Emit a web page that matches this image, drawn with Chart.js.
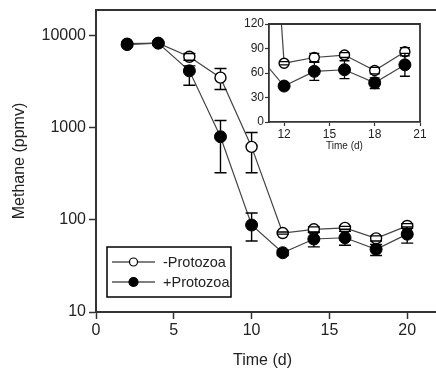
<!DOCTYPE html>
<html>
<head>
<meta charset="utf-8">
<script src="https://cdn.jsdelivr.net/npm/chart.js@4"></script>
<style>
  body { margin: 0; background: #fff; }
  #wrap { position: relative; width: 436px; height: 372px; }
  #main { position: absolute; left: 0; top: 0; }
  #inset { position: absolute; left: 225px; top: 12px; }
</style>
</head>
<body>
<div id="wrap">
  <canvas id="main" width="436" height="372"></canvas>
  <canvas id="inset" width="205" height="145"></canvas>
</div>
<script>
// sampling days
const days = [2, 4, 6, 8, 10, 12, 14, 16, 18, 20];

// -Protozoa (open circles)
const minusMean = [8200, 8300, 5900, 3500, 620, 72, 79, 82, 63, 86];
const minusHigh = [8500, 8600, 6400, 4400, 890, 74, 84, 85, 67, 91];
const minusLow = [7900, 8000, 5400, 2600, 325, 70, 74, 79, 59, 81];

// +Protozoa (filled circles)
const plusMean = [8000, 8300, 4150, 800, 88, 44, 62, 64, 48, 70];
const plusHigh = [8300, 8600, 4700, 1200, 119, 47, 73, 75, 54, 84];
const plusLow = [7700, 8000, 2900, 325, 59, 41, 51, 53, 41, 56];

const seriesNames = ["-Protozoa", "+Protozoa"];

// tick labels
const mainXTicks = [0, 5, 10, 15, 20];
const mainYTicks = [10, 100, 1000, 10000];
const insetXTicks = [12, 15, 18, 21];
const insetYTicks = [0, 30, 60, 90, 120];

const FONT = "'Liberation Sans', Arial, sans-serif";
const INK = "#222";
const AXIS = "#333";

const toXY = arr => arr.map((v, i) => ({ x: days[i], y: v }));

// fixed axis box sizes, no extra label padding so the plot area lands where we want
const fixSize = (w, h) => s => {
  if (w != null) s.width = w;
  if (h != null) s.height = h;
  s.paddingTop = 0; s.paddingBottom = 0; s.paddingLeft = 0; s.paddingRight = 0;
};

function makeDatasets(rOpen, rFilled) {
  return [
    {
      label: seriesNames[0],
      data: toXY(minusMean),
      errHigh: minusHigh,
      errLow: minusLow,
      borderColor: "#444",
      borderWidth: 1.2,
      pointBackgroundColor: "#fff",
      pointBorderColor: "#000",
      pointBorderWidth: 1.4,
      pointRadius: rOpen,
      tension: 0,
      order: 2
    },
    {
      label: seriesNames[1],
      data: toXY(plusMean),
      errHigh: plusHigh,
      errLow: plusLow,
      borderColor: "#444",
      borderWidth: 1.2,
      pointBackgroundColor: "#000",
      pointBorderColor: "#000",
      pointBorderWidth: 1,
      pointRadius: rFilled,
      tension: 0,
      order: 1
    }
  ];
}

// error bars drawn right after each dataset; stems stop at the symbol edge
const errorBars = {
  id: "errorBars",
  afterDatasetDraw(chart, args, opts) {
    const ds = chart.data.datasets[args.index];
    const yScale = chart.scales.y;
    const area = chart.chartArea;
    const ctx = chart.ctx;
    const r = ds.pointRadius;
    const cap = opts.cap || 6;
    ctx.save();
    ctx.beginPath();
    ctx.rect(area.left, area.top - 1, area.right - area.left, area.bottom - area.top + 1);
    ctx.clip();
    ctx.strokeStyle = "#000";
    ctx.lineWidth = opts.width || 1.4;
    args.meta.data.forEach((pt, i) => {
      const yHi = yScale.getPixelForValue(ds.errHigh[i]);
      const yLo = yScale.getPixelForValue(ds.errLow[i]);
      ctx.beginPath();
      if (yHi < pt.y - r) { ctx.moveTo(pt.x, pt.y - r); ctx.lineTo(pt.x, yHi); }
      if (yLo > pt.y + r) { ctx.moveTo(pt.x, pt.y + r); ctx.lineTo(pt.x, yLo); }
      ctx.moveTo(pt.x - cap, yHi); ctx.lineTo(pt.x + cap, yHi);
      ctx.moveTo(pt.x - cap, yLo); ctx.lineTo(pt.x + cap, yLo);
      ctx.stroke();
    });
    ctx.restore();
  }
};

// top frame line; main chart: top and bottom lines run on to the canvas edge
const frame = {
  id: "frame",
  afterDraw(chart, args, opts) {
    const { ctx, chartArea: a } = chart;
    ctx.save();
    ctx.strokeStyle = AXIS;
    ctx.lineWidth = opts.width;
    ctx.beginPath();
    if (opts.right) {
      ctx.moveTo(a.left, a.top);
      ctx.lineTo(a.right, a.top);
      ctx.lineTo(a.right, a.bottom);
    } else {
      ctx.moveTo(a.left, a.top);
      ctx.lineTo(chart.width, a.top);
      ctx.moveTo(a.right - 1, a.bottom);
      ctx.lineTo(chart.width, a.bottom);
    }
    ctx.stroke();
    ctx.restore();
  }
};

const boxLegend = {
  id: "boxLegend",
  afterDraw(chart) {
    const ctx = chart.ctx;
    const x0 = 107, y0 = 247, w = 124, h = 50;
    ctx.save();
    ctx.fillStyle = "#fff";
    ctx.fillRect(x0, y0, w, h);
    ctx.strokeStyle = "#000";
    ctx.lineWidth = 1.5;
    ctx.strokeRect(x0, y0, w, h);
    chart.data.datasets.forEach((ds, i) => {
      const y = y0 + 15 + i * 20;
      ctx.strokeStyle = "#000";
      ctx.lineWidth = 1.2;
      ctx.beginPath();
      ctx.moveTo(x0 + 5, y);
      ctx.lineTo(x0 + 48, y);
      ctx.stroke();
      ctx.beginPath();
      ctx.arc(x0 + 26.5, y, i === 0 ? 4 : 4.5, 0, Math.PI * 2);
      ctx.fillStyle = ds.pointBackgroundColor;
      ctx.fill();
      ctx.lineWidth = 1.2;
      ctx.stroke();
      ctx.fillStyle = INK;
      ctx.font = "14.5px " + FONT;
      ctx.textBaseline = "middle";
      ctx.fillText(ds.label, x0 + 56, y + 1);
    });
    ctx.restore();
  }
};

new Chart(document.getElementById("main"), {
  type: "line",
  data: { datasets: makeDatasets(5.5, 6) },
  plugins: [errorBars, frame, boxLegend],
  options: {
    responsive: false,
    animation: false,
    layout: { padding: { top: 10, right: 0, left: 0, bottom: 0 } },
    plugins: {
      legend: { display: false },
      tooltip: { enabled: false },
      errorBars: { cap: 6, width: 1.4 },
      frame: { width: 2, right: false }
    },
    scales: {
      x: {
        type: "linear",
        min: 0,
        max: 21.4,
        afterBuildTicks: s => { s.ticks = mainXTicks.map(v => ({ value: v })); },
        afterFit: fixSize(null, 60),
        grid: { drawOnChartArea: false, tickLength: 7, tickWidth: 1.5, tickColor: AXIS },
        border: { color: AXIS, width: 2 },
        ticks: { color: INK, font: { family: FONT, size: 16 }, padding: 2 },
        title: { display: true, text: "Time (d)", color: INK, font: { family: FONT, size: 16 }, padding: { top: 0, bottom: 2 } }
      },
      y: {
        type: "logarithmic",
        min: 10,
        max: 19000,
        afterBuildTicks: s => { s.ticks = mainYTicks.map(v => ({ value: v })); },
        afterFit: fixSize(96, null),
        grid: { drawOnChartArea: false, tickLength: 7, tickWidth: 1.5, tickColor: AXIS },
        border: { color: AXIS, width: 2 },
        ticks: { color: INK, font: { family: FONT, size: 16 }, padding: 3, callback: v => String(v) },
        title: { display: true, text: "Methane (ppmv)", color: INK, font: { family: FONT, size: 16 }, padding: { top: 10, bottom: 0 } }
      }
    }
  }
});

new Chart(document.getElementById("inset"), {
  type: "line",
  data: { datasets: makeDatasets(5, 6) },
  plugins: [errorBars, frame],
  options: {
    responsive: false,
    animation: false,
    layout: { padding: { top: 12, right: 10, left: 0, bottom: 0 } },
    plugins: {
      legend: { display: false },
      tooltip: { enabled: false },
      errorBars: { cap: 5, width: 1.3 },
      frame: { width: 1.8, right: true }
    },
    scales: {
      x: {
        type: "linear",
        min: 11,
        max: 21,
        afterBuildTicks: s => { s.ticks = insetXTicks.map(v => ({ value: v })); },
        afterFit: fixSize(null, 35),
        grid: { drawOnChartArea: false, tickLength: 4, tickWidth: 1.2, tickColor: AXIS },
        border: { color: AXIS, width: 1.8 },
        ticks: { color: INK, font: { family: FONT, size: 12 }, padding: 1 },
        title: { display: true, text: "Time (d)", color: INK, font: { family: FONT, size: 10 }, padding: { top: 0, bottom: 5 } }
      },
      y: {
        type: "linear",
        min: 0,
        max: 120,
        afterBuildTicks: s => { s.ticks = insetYTicks.map(v => ({ value: v })); },
        afterFit: fixSize(44, null),
        grid: { drawOnChartArea: false, tickLength: 4, tickWidth: 1.2, tickColor: AXIS },
        border: { color: AXIS, width: 1.8 },
        ticks: { color: INK, font: { family: FONT, size: 12 }, padding: 1 }
      }
    }
  }
});
</script>
</body>
</html>
